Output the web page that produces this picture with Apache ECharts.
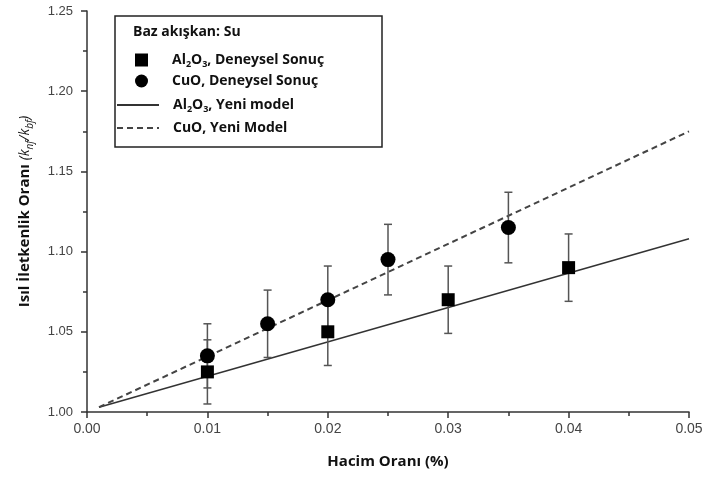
<!DOCTYPE html>
<html>
<head>
<meta charset="utf-8">
<script src="https://cdn.jsdelivr.net/npm/echarts@6/dist/echarts.min.js"></script>
<style>html,body{margin:0;padding:0;background:#fff}#c{width:707px;height:479px}</style>
</head>
<body>
<div id="c"></div>
<script>
// ---- data ----
const alX = [0.01, 0.02, 0.03, 0.04];
const alY = [1.025, 1.05, 1.07, 1.09];
const alErr = [0.02, 0.021, 0.021, 0.021];
const cuX = [0.01, 0.015, 0.02, 0.025, 0.035];
const cuY = [1.035, 1.055, 1.07, 1.095, 1.115];
const cuErr = [0.02, 0.021, 0.021, 0.022, 0.022];
const modelX = [0.001, 0.05];
const alModel = [1.003, 1.108];
const cuModel = [1.003, 1.175];
const xTicks = [0, 0.01, 0.02, 0.03, 0.04, 0.05];
const yTicks = [1.00, 1.05, 1.10, 1.15, 1.20, 1.25];

const nAlExp = 'Al2O3, Deneysel Sonuç';
const nCuExp = 'CuO, Deneysel Sonuç';
const nAlMod = 'Al2O3, Yeni model';
const nCuMod = 'CuO, Yeni Model';

const FONT = 'Open Sans';
function zip(xs, ys) { return xs.map((x, i) => [x, ys[i]]); }
function zip3(xs, ys, es) { return xs.map((x, i) => [x, ys[i], es[i]]); }

function errRender(params, api) {
  const x = api.value(0), y = api.value(1), e = api.value(2);
  const top = api.coord([x, y + e]);
  const bot = api.coord([x, y - e]);
  const cw = 4;
  const st = { stroke: '#555', lineWidth: 1.5 };
  return {
    type: 'group',
    children: [
      { type: 'line', shape: { x1: top[0], y1: top[1], x2: bot[0], y2: bot[1] }, style: st },
      { type: 'line', shape: { x1: top[0] - cw, y1: top[1], x2: top[0] + cw, y2: top[1] }, style: st },
      { type: 'line', shape: { x1: bot[0] - cw, y1: bot[1], x2: bot[0] + cw, y2: bot[1] }, style: st }
    ]
  };
}

function legendFmt(name) {
  const sub = name.replace(/Al2O3/, '{t|Al}{s|2}{t|O}{s|3}{t|');
  const body = sub.indexOf('{t|') === 0 ? sub + '}' : '{t|' + name + '}';
  return '{sp|}' + body;
}
function legendRich(pad) {
  return {
    sp: { width: pad },
    t: { fontFamily: FONT, fontWeight: 'bold', fontSize: 14, color: '#111', lineHeight: 18 },
    s: { fontFamily: FONT, fontWeight: 'bold', fontSize: 9, color: '#111', lineHeight: 9, verticalAlign: 'bottom' }
  };
}

const chart = echarts.init(document.getElementById('c'), null, { renderer: 'canvas' });
chart.setOption({
  animation: false,
  backgroundColor: '#fff',
  grid: { left: 87, right: 18, top: 11, bottom: 67, containLabel: false },
  xAxis: {
    type: 'value', min: xTicks[0], max: xTicks[xTicks.length - 1], interval: 0.01,
    name: 'Hacim Oranı (%)', nameLocation: 'middle', nameGap: 42,
    nameTextStyle: { fontFamily: FONT, fontWeight: 'bold', fontSize: 15, color: '#111' },
    axisLine: { lineStyle: { color: '#333', width: 1.5 } },
    axisTick: { length: 6, lineStyle: { color: '#333', width: 1.5 } },
    minorTick: { show: true, splitNumber: 2, length: 4, lineStyle: { color: '#333', width: 1.5 } },
    axisLabel: { fontFamily: 'Liberation Sans', fontSize: 14, color: '#444', margin: 10,
      formatter: v => v.toFixed(2) },
    splitLine: { show: false }
  },
  yAxis: {
    type: 'value', min: yTicks[0], max: yTicks[yTicks.length - 1], interval: 0.05,
    name: '{b|Isıl İletkenlik Oranı }{i|(k}{is|nf}{i|/k}{is|bf}{i|)}',
    nameLocation: 'middle', nameGap: 52,
    nameTextStyle: {
      rich: {
        b: { fontFamily: FONT, fontWeight: 'bold', fontSize: 15, color: '#111', lineHeight: 20 },
        i: { fontFamily: FONT, fontStyle: 'italic', fontSize: 14, color: '#111', lineHeight: 20 },
        is: { fontFamily: FONT, fontStyle: 'italic', fontSize: 10, color: '#111', lineHeight: 10, verticalAlign: 'bottom' }
      }
    },
    axisLine: { show: true, lineStyle: { color: '#333', width: 1.5 } },
    axisTick: { show: true, length: 6, lineStyle: { color: '#333', width: 1.5 } },
    minorTick: { show: true, splitNumber: 2, length: 4, lineStyle: { color: '#333', width: 1.5 } },
    axisLabel: { fontFamily: 'Liberation Sans', fontSize: 13, color: '#444', margin: 14,
      formatter: v => v.toFixed(2) },
    splitLine: { show: false }
  },
  legend: [
    {
      data: [nAlExp, nCuExp], orient: 'vertical', left: 135, top: 53,
      itemWidth: 13, itemHeight: 13, itemGap: 5, padding: 0,
      formatter: legendFmt, textStyle: { rich: legendRich(19) }, selectedMode: false
    },
    {
      data: [nAlMod, nCuMod], orient: 'vertical', left: 116, top: 98,
      itemWidth: 42, itemHeight: 10, itemGap: 7, padding: 0,
      itemStyle: { opacity: 0 },
      formatter: legendFmt, textStyle: { rich: legendRich(9) }, selectedMode: false
    }
  ],
  graphic: [
    { type: 'rect', z: 0, shape: { x: 115, y: 16, width: 267, height: 131 },
      style: { fill: '#fff', stroke: '#222', lineWidth: 1.5 } },
    { type: 'text', z: 1, x: 133, y: 25,
      style: { text: 'Baz akışkan: Su', font: 'bold 14px "Open Sans"', fill: '#111' } }
  ],
  series: [
    { name: nAlMod, type: 'line', data: zip(modelX, alModel), symbol: 'none', z: 2,
      lineStyle: { color: '#333', width: 1.5, type: 'solid' }, itemStyle: { color: '#333' } },
    { name: nCuMod, type: 'line', data: zip(modelX, cuModel), symbol: 'none', z: 2,
      lineStyle: { color: '#444', width: 2, type: [6, 4] }, itemStyle: { color: '#444' } },
    { type: 'custom', renderItem: errRender, data: zip3(alX, alY, alErr), z: 3 },
    { type: 'custom', renderItem: errRender, data: zip3(cuX, cuY, cuErr), z: 3 },
    { name: nAlExp, type: 'scatter', data: zip(alX, alY), symbol: 'rect', symbolSize: 13, z: 4,
      itemStyle: { color: '#000', opacity: 1 } },
    { name: nCuExp, type: 'scatter', data: zip(cuX, cuY), symbol: 'circle', symbolSize: 15, z: 4,
      itemStyle: { color: '#000', opacity: 1 } }
  ]
});
</script>
</body>
</html>
